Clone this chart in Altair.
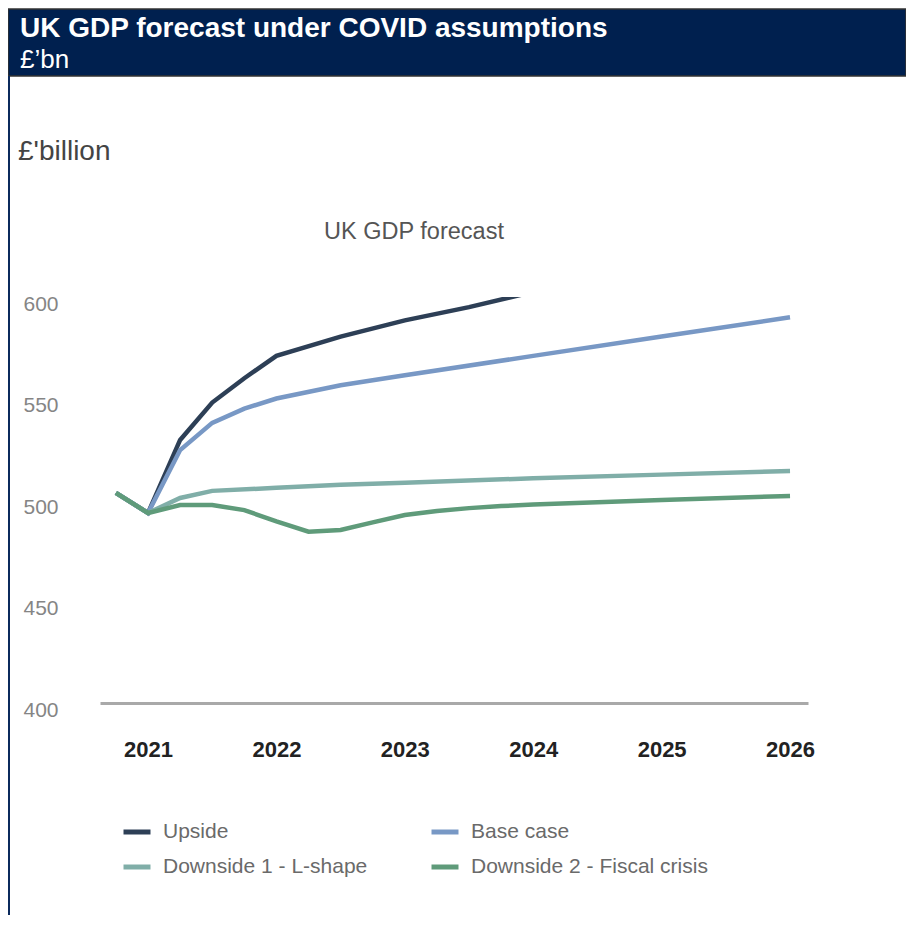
import altair as alt
import pandas as pd

# ---- data ----
series_names = ["Upside", "Base case", "Downside 1 - L-shape", "Downside 2 - Fiscal crisis"]
series_colors = ["#2d3f56", "#7898c5", "#80aea8", "#5f9b7a"]

upside_x = [2020.75, 2021.0, 2021.25, 2021.5, 2021.75, 2022.0, 2022.5, 2023.0, 2023.5, 2024.0]
upside_y = [503.5, 493.6, 529.6, 548.0, 560.0, 571.0, 580.5, 588.5, 595.0, 602.5]

base_x = [2020.75, 2021.0, 2021.25, 2021.5, 2021.75, 2022.0, 2022.5, 2023.0, 2024.0, 2025.0, 2026.0]
base_y = [503.5, 493.6, 524.6, 538.0, 545.0, 550.0, 556.5, 561.5, 571.0, 580.5, 590.0]

d1_x = [2020.75, 2021.0, 2021.25, 2021.5, 2022.0, 2022.5, 2023.0, 2024.0, 2025.0, 2026.0]
d1_y = [503.5, 493.6, 501.0, 504.5, 506.0, 507.5, 508.5, 510.7, 512.5, 514.3]

d2_x = [2020.75, 2021.0, 2021.25, 2021.5, 2021.75, 2022.0, 2022.25, 2022.5, 2022.75,
        2023.0, 2023.25, 2023.5, 2023.75, 2024.0, 2025.0, 2026.0]
d2_y = [503.5, 493.6, 497.5, 497.5, 495.0, 489.5, 484.4, 485.2, 489.0,
        492.6, 494.6, 496.0, 497.0, 497.8, 500.0, 502.0]

year_ticks = [2021, 2022, 2023, 2024, 2025, 2026]
value_ticks = [400, 450, 500, 550, 600]

rows = []
for name, xs, ys in zip(series_names,
                        [upside_x, base_x, d1_x, d2_x],
                        [upside_y, base_y, d1_y, d2_y]):
    for i, (xv, yv) in enumerate(zip(xs, ys)):
        rows.append({"series": name, "year": xv, "gdp": yv, "order": i})
df = pd.DataFrame(rows)

FONT = "Liberation Sans"
W, H = 708, 406

lines = alt.Chart(df).mark_line(strokeWidth=4.5, clip=True).encode(
    x=alt.X("year:Q",
            scale=alt.Scale(domain=[2020.626, 2026.14], nice=False, zero=False),
            axis=alt.Axis(values=year_ticks, format="d", title=None, ticks=False,
                          grid=False, domainColor="#a9a9a9", domainWidth=3,
                          labelFont=FONT, labelFontSize=22, labelFontWeight="bold",
                          labelColor="#222222", labelPadding=36)),
    y=alt.Y("gdp:Q",
            scale=alt.Scale(domain=[400, 600], nice=False, zero=False),
            axis=alt.Axis(values=value_ticks, title=None, ticks=False, grid=False,
                          domain=False, labelFont=FONT, labelFontSize=21,
                          labelColor="#858585", labelPadding=42, labelOffset=7)),
    color=alt.Color("series:N",
                    scale=alt.Scale(domain=series_names, range=series_colors),
                    legend=alt.Legend(title=None, orient="none", legendX=21, legendY=519,
                                      columns=2, direction="horizontal",
                                      symbolType="stroke", symbolSize=729,
                                      symbolStrokeWidth=5, labelFont=FONT,
                                      labelFontSize=21, labelColor="#6a6a6a",
                                      labelLimit=400, labelOffset=10,
                                      columnPadding=53, rowPadding=9)),
    order="order:Q",
)

one = alt.Data(values=[{}])

header = alt.Chart(one).mark_rect(color="#00204f", stroke="#333333", strokeWidth=1.5).encode(
    x=alt.value(-92), x2=alt.value(806), y=alt.value(-288), y2=alt.value(-221))

left_border = alt.Chart(one).mark_rect(color="#0b2a5c").encode(
    x=alt.value(-92), x2=alt.value(-90), y=alt.value(-221), y2=alt.value(618))

title_txt = alt.Chart(one).mark_text(text="UK GDP forecast under COVID assumptions",
                                     font=FONT, fontSize=28, fontWeight="bold",
                                     color="white", align="left", baseline="middle").encode(
    x=alt.value(-80), y=alt.value(-268))

sub_txt = alt.Chart(one).mark_text(text="£’bn", font=FONT, fontSize=26,
                                   color="white", align="left", baseline="middle").encode(
    x=alt.value(-80), y=alt.value(-237))

unit_txt = alt.Chart(one).mark_text(text="£'billion", font=FONT, fontSize=28,
                                    color="#444444", align="left", baseline="middle").encode(
    x=alt.value(-82), y=alt.value(-145))

chart_title = alt.Chart(one).mark_text(text="UK GDP forecast", font=FONT, fontSize=23.5,
                                       color="#555555", align="center",
                                       baseline="middle").encode(
    x=alt.value(314), y=alt.value(-65))

chart = alt.layer(header, left_border, title_txt, sub_txt, unit_txt, chart_title, lines).properties(
    width=W, height=H,
    autosize=alt.AutoSizeParams(type="none"),
    padding={"left": 92, "top": 289, "right": 98, "bottom": 212},
    background="white",
).configure_view(stroke=None)

chart.save("out.html", embed_options={"renderer": "svg", "actions": False})
